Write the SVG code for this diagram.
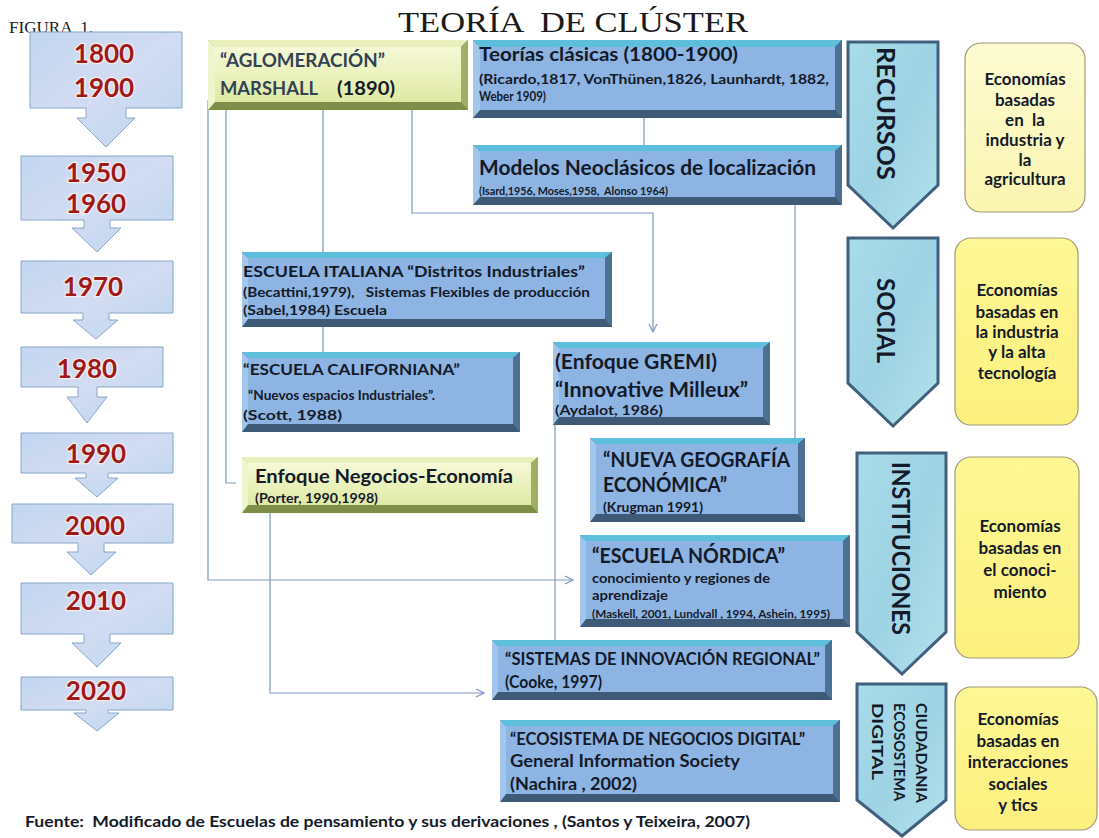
<svg xmlns="http://www.w3.org/2000/svg" width="1099" height="838" viewBox="0 0 1099 838">
<defs>
<linearGradient id="gTime" x1="0" y1="0" x2="1" y2="1"><stop offset="0" stop-color="#c3d6f0"/><stop offset="0.5" stop-color="#d2dcf2"/><stop offset="1" stop-color="#bcd6ee"/></linearGradient>
<linearGradient id="gChev" x1="0" y1="0" x2="1" y2="1"><stop offset="0" stop-color="#a9dcea"/><stop offset="0.5" stop-color="#9ed3e4"/><stop offset="1" stop-color="#b2e0ec"/></linearGradient>
<linearGradient id="gGreen" x1="0" y1="0" x2="0" y2="1"><stop offset="0" stop-color="#f6f9d6"/><stop offset="1" stop-color="#dfe9a4"/></linearGradient>
<linearGradient id="gY1" x1="0" y1="0" x2="0" y2="1"><stop offset="0" stop-color="#fdfbd2"/><stop offset="1" stop-color="#fbf5b0"/></linearGradient>
<linearGradient id="gY2" x1="0" y1="0" x2="0" y2="1"><stop offset="0" stop-color="#fdf895"/><stop offset="1" stop-color="#fcf07e"/></linearGradient>
<marker id="arr" markerWidth="10" markerHeight="10" refX="9" refY="5" orient="auto" markerUnits="userSpaceOnUse"><path d="M1,1 L9,5 L1,9" fill="none" stroke="#7f97c0" stroke-width="1.2"/></marker>
</defs>
<style>
.t{font-family:Lato,"Open Sans","Noto Sans",sans-serif;font-weight:700;fill:#141a28}
.yr{font-family:Lato,"Open Sans",sans-serif;font-weight:700;font-size:26px;fill:#9e1a1a;stroke:#f8eeee;stroke-width:2.5px;paint-order:stroke;text-anchor:middle}
.ser{font-family:"Liberation Serif","Times New Roman",serif;fill:#1a1a1a}
.tl{fill:url(#gTime);stroke:#86a6c8;stroke-width:1}
.chev{fill:url(#gChev);stroke:#40607e;stroke-width:3;stroke-linejoin:miter}
.yel{stroke:#a09a78;stroke-width:1.2}
.bd{fill:#3e5a76}.btp{fill:#5dbfdc}.blf{fill:#a3c6ec}.brt{fill:#4d7192}.bf{fill:#8eb4e3}
.gd{fill:#7e8e48}.gtp{fill:#e9f0bb}.glf{fill:#eef5cc}.grt{fill:#9fb062}.gf{fill:url(#gGreen)}
.c{fill:none;stroke:#7f97c0;stroke-width:1.2}
.mid{text-anchor:middle}
</style>
<rect width="1099" height="838" fill="#ffffff"/>

<text class="ser" x="9" y="33" font-size="16" textLength="84" lengthAdjust="spacingAndGlyphs" xml:space="preserve">FIGURA  1.</text>
<text class="ser" x="398" y="32" font-size="30" textLength="350" lengthAdjust="spacingAndGlyphs" xml:space="preserve">TEORÍA  DE CLÚSTER</text>

<g id="timeline">
<g id="y1800"><path class="tl" d="M30,32 H182 V108 H126 V118 H135 L106,147 L77,118 H86 V108 H30 Z"/><text class="yr" x="104" y="63">1800</text><text class="yr" x="104" y="97">1900</text></g>
<g id="y1950"><path class="tl" d="M21,156 H173 V220 H110 V228 H121 L97,252 L72,228 H84 V220 H21 Z"/><text class="yr" x="96" y="182">1950</text><text class="yr" x="96" y="213">1960</text></g>
<g id="y1970"><path class="tl" d="M21,261 H173 V313 H109 V320 H118 L96,339 L73,320 H83 V313 H21 Z"/><text class="yr" x="93" y="296">1970</text></g>
<g id="y1980"><path class="tl" d="M21,347 H163 V387 H97 V397 H107 L87,423 L67,397 H78 V387 H21 Z"/><text class="yr" x="87" y="378">1980</text></g>
<g id="y1990"><path class="tl" d="M21,433 H173 V473 H108 V478 H118 L97,497 L75,478 H86 V473 H21 Z"/><text class="yr" x="96" y="463">1990</text></g>
<g id="y2000"><path class="tl" d="M12,504 H173 V543 H104 V552 H116 L91,575 L67,552 H78 V543 H12 Z"/><text class="yr" x="95" y="535">2000</text></g>
<g id="y2010"><path class="tl" d="M21,583 H173 V634 H110 V643 H121 L97,667 L72,643 H84 V634 H21 Z"/><text class="yr" x="96" y="610">2010</text></g>
<g id="y2020"><path class="tl" d="M21,677 H173 V710 H108 V713 H119 L97,731 L74,713 H86 V710 H21 Z"/><text class="yr" x="96" y="700">2020</text></g>
</g>

<g id="connectors">
<path class="c" d="M208,100 V580 H573" marker-end="url(#arr)"/>
<path class="c" d="M226,100 V483 H236"/>
<path class="c" d="M323,100 V252"/>
<path class="c" d="M323,327 V352"/>
<path class="c" d="M412,100 V213 H653 V332" marker-end="url(#arr)"/>
<path class="c" d="M644,118 V145"/>
<path class="c" d="M795,205 V438"/>
<path class="c" d="M555,425 V640"/>
<path class="c" d="M270,513 V693 H484" marker-end="url(#arr)"/>
</g>

<g id="marshall">
<rect class="gd" x="208" y="40" width="260" height="70"/>
<polygon class="gtp" points="208,40 468,40 461,47 215,47"/>
<polygon class="glf" points="208,40 215,47 215,102 208,110"/>
<polygon class="grt" points="468,40 468,110 461,102 461,47"/>
<rect class="gf" x="215" y="47" width="246" height="55"/>
<text class="t" x="220" y="67" font-size="19" style="fill:#334255" textLength="165" lengthAdjust="spacingAndGlyphs">“AGLOMERACIÓN”</text>
<text class="t" x="220" y="95" font-size="19" style="fill:#334255" textLength="98" lengthAdjust="spacingAndGlyphs">MARSHALL</text>
<text class="t" x="337" y="95" font-size="19" textLength="58" lengthAdjust="spacingAndGlyphs">(1890)</text>
</g>

<g id="clasicas">
<rect class="bd" x="473" y="40" width="369" height="78"/>
<polygon class="btp" points="473,40 842,40 835,47 480,47"/>
<polygon class="blf" points="473,40 480,47 480,110 473,118"/>
<polygon class="brt" points="842,40 842,118 835,110 835,47"/>
<rect class="bf" x="480" y="47" width="355" height="63"/>
<text class="t" x="479" y="61" font-size="19.5" textLength="259" lengthAdjust="spacingAndGlyphs">Teorías clásicas (1800-1900)</text>
<text class="t" x="479" y="84" font-size="13" textLength="350" lengthAdjust="spacingAndGlyphs">(Ricardo,1817, VonThünen,1826, Launhardt, 1882,</text>
<text class="t" x="479" y="101" font-size="13" textLength="67" lengthAdjust="spacingAndGlyphs">Weber 1909)</text>
</g>

<g id="neoclasicos">
<rect class="bd" x="473" y="145" width="369" height="60"/>
<polygon class="btp" points="473,145 842,145 835,151 480,151"/>
<polygon class="blf" points="473,145 480,151 480,197 473,205"/>
<polygon class="brt" points="842,145 842,205 835,197 835,151"/>
<rect class="bf" x="480" y="151" width="355" height="46"/>
<text class="t" x="479" y="175" font-size="20.5" textLength="337" lengthAdjust="spacingAndGlyphs">Modelos Neoclásicos de localización</text>
<text class="t" x="479" y="195" font-size="12" textLength="189" lengthAdjust="spacingAndGlyphs" xml:space="preserve">(Isard,1956, Moses,1958,  Alonso 1964)</text>
</g>

<g id="italiana">
<rect class="bd" x="242" y="252" width="370" height="75"/>
<polygon class="btp" points="242,252 612,252 605,258 248,258"/>
<polygon class="blf" points="242,252 248,258 248,319 242,327"/>
<polygon class="brt" points="612,252 612,327 605,319 605,258"/>
<rect class="bf" x="248" y="258" width="357" height="61"/>
<text class="t" x="243" y="277" font-size="16" textLength="342" lengthAdjust="spacingAndGlyphs">ESCUELA ITALIANA “Distritos Industriales”</text>
<text class="t" x="243" y="297" font-size="13.5" textLength="347" lengthAdjust="spacingAndGlyphs" xml:space="preserve">(Becattini,1979),   Sistemas Flexibles de producción</text>
<text class="t" x="243" y="315" font-size="13.5" textLength="144" lengthAdjust="spacingAndGlyphs">(Sabel,1984) Escuela</text>
</g>

<g id="californiana">
<rect class="bd" x="242" y="352" width="278" height="80"/>
<polygon class="btp" points="242,352 520,352 513,358 248,358"/>
<polygon class="blf" points="242,352 248,358 248,424 242,432"/>
<polygon class="brt" points="520,352 520,432 513,424 513,358"/>
<rect class="bf" x="248" y="358" width="265" height="66"/>
<text class="t" x="243" y="375" font-size="16" textLength="217" lengthAdjust="spacingAndGlyphs">“ESCUELA CALIFORNIANA”</text>
<text class="t" x="248" y="400" font-size="13.5" textLength="187" lengthAdjust="spacingAndGlyphs">“Nuevos espacios Industriales”.</text>
<text class="t" x="243" y="420" font-size="13.5" textLength="99" lengthAdjust="spacingAndGlyphs">(Scott, 1988)</text>
</g>

<g id="gremi">
<rect class="bd" x="553" y="342" width="217" height="83"/>
<polygon class="btp" points="553,342 770,342 763,348 559,348"/>
<polygon class="blf" points="553,342 559,348 559,417 553,425"/>
<polygon class="brt" points="770,342 770,425 763,417 763,348"/>
<rect class="bf" x="559" y="348" width="204" height="69"/>
<text class="t" x="555" y="369" font-size="21" textLength="162" lengthAdjust="spacingAndGlyphs">(Enfoque GREMI)</text>
<text class="t" x="555" y="397" font-size="21" textLength="193" lengthAdjust="spacingAndGlyphs">“Innovative Milleux”</text>
<text class="t" x="555" y="415" font-size="13" textLength="108" lengthAdjust="spacingAndGlyphs">(Aydalot, 1986)</text>
</g>

<g id="negocios">
<rect class="gd" x="242" y="457" width="296" height="56"/>
<polygon class="gtp" points="242,457 538,457 531,463 248,463"/>
<polygon class="glf" points="242,457 248,463 248,505 242,513"/>
<polygon class="grt" points="538,457 538,513 531,505 531,463"/>
<rect class="gf" x="248" y="463" width="283" height="42"/>
<text class="t" x="255" y="483" font-size="19.5" textLength="258" lengthAdjust="spacingAndGlyphs">Enfoque Negocios-Economía</text>
<text class="t" x="255" y="503" font-size="13" textLength="123" lengthAdjust="spacingAndGlyphs">(Porter, 1990,1998)</text>
</g>

<g id="nueva">
<rect class="bd" x="590" y="438" width="215" height="84"/>
<polygon class="btp" points="590,438 805,438 798,444 596,444"/>
<polygon class="blf" points="590,438 596,444 596,514 590,522"/>
<polygon class="brt" points="805,438 805,522 798,514 798,444"/>
<rect class="bf" x="596" y="444" width="202" height="70"/>
<text class="t" x="603" y="467" font-size="21" textLength="187" lengthAdjust="spacingAndGlyphs">“NUEVA GEOGRAFÍA</text>
<text class="t" x="603" y="492" font-size="21" textLength="124" lengthAdjust="spacingAndGlyphs">ECONÓMICA”</text>
<text class="t" x="603" y="512" font-size="13" textLength="100" lengthAdjust="spacingAndGlyphs">(Krugman 1991)</text>
</g>

<g id="nordica">
<rect class="bd" x="580" y="535" width="270" height="92"/>
<polygon class="btp" points="580,535 850,535 843,541 586,541"/>
<polygon class="blf" points="580,535 586,541 586,619 580,627"/>
<polygon class="brt" points="850,535 850,627 843,619 843,541"/>
<rect class="bf" x="586" y="541" width="257" height="78"/>
<text class="t" x="592" y="563" font-size="21" textLength="193" lengthAdjust="spacingAndGlyphs">“ESCUELA NÓRDICA”</text>
<text class="t" x="592" y="583" font-size="14" textLength="178" lengthAdjust="spacingAndGlyphs">conocimiento y regiones de</text>
<text class="t" x="592" y="600" font-size="14" textLength="76" lengthAdjust="spacingAndGlyphs">aprendizaje</text>
<text class="t" x="592" y="618" font-size="10.5" textLength="238" lengthAdjust="spacingAndGlyphs">(Maskell, 2001, Lundvall , 1994, Ashein, 1995)</text>
</g>

<g id="sistemas">
<rect class="bd" x="492" y="640" width="340" height="60"/>
<polygon class="btp" points="492,640 832,640 825,646 498,646"/>
<polygon class="blf" points="492,640 498,646 498,692 492,700"/>
<polygon class="brt" points="832,640 832,700 825,692 825,646"/>
<rect class="bf" x="498" y="646" width="327" height="46"/>
<text class="t" x="505" y="665" font-size="16.5" textLength="315" lengthAdjust="spacingAndGlyphs">“SISTEMAS DE INNOVACIÓN REGIONAL”</text>
<text class="t" x="505" y="688" font-size="16.5" textLength="97" lengthAdjust="spacingAndGlyphs">(Cooke, 1997)</text>
</g>

<g id="ecosistema">
<rect class="bd" x="500" y="720" width="340" height="82"/>
<polygon class="btp" points="500,720 840,720 833,726 506,726"/>
<polygon class="blf" points="500,720 506,726 506,794 500,802"/>
<polygon class="brt" points="840,720 840,802 833,794 833,726"/>
<rect class="bf" x="506" y="726" width="327" height="68"/>
<text class="t" x="510" y="745" font-size="16.5" textLength="295" lengthAdjust="spacingAndGlyphs">“ECOSISTEMA DE NEGOCIOS DIGITAL”</text>
<text class="t" x="510" y="767" font-size="16.5" textLength="230" lengthAdjust="spacingAndGlyphs">General Information Society</text>
<text class="t" x="510" y="790" font-size="16.5" textLength="127" lengthAdjust="spacingAndGlyphs">(Nachira , 2002)</text>
</g>

<g id="recursos">
<path class="chev" d="M848,42 H938 V185 L893,228 L848,185 Z"/>
<text class="t" transform="translate(877,47) rotate(90)" font-size="24" textLength="133" lengthAdjust="spacingAndGlyphs">RECURSOS</text>
</g>
<g id="social">
<path class="chev" d="M848,238 H938 V383 L893,426 L848,383 Z"/>
<text class="t" transform="translate(877,278) rotate(90)" font-size="24" textLength="85" lengthAdjust="spacingAndGlyphs">SOCIAL</text>
</g>
<g id="instituciones">
<path class="chev" d="M857,453 H946 V632 L902,674 L857,632 Z"/>
<text class="t" transform="translate(892,462) rotate(90)" font-size="25" textLength="173" lengthAdjust="spacingAndGlyphs">INSTITUCIONES</text>
</g>
<g id="ciudadania">
<path class="chev" d="M857,684 H946 V800 L902,836 L857,800 Z"/>
<text class="t" transform="translate(916,703) rotate(90)" font-size="16" textLength="100" lengthAdjust="spacingAndGlyphs">CIUDADANIA</text>
<text class="t" transform="translate(894,703) rotate(90)" font-size="16" textLength="98" lengthAdjust="spacingAndGlyphs">ECOSOSTEMA</text>
<text class="t" transform="translate(872,703) rotate(90)" font-size="16" textLength="77" lengthAdjust="spacingAndGlyphs">DIGITAL</text>
</g>

<g id="eco1">
<rect class="yel" x="965" y="43" width="120" height="169" rx="16" fill="url(#gY1)"/>
<g class="t mid" font-size="17"><text x="1025" y="85">Economías</text><text x="1025" y="106">basadas</text><text x="1025" y="126" xml:space="preserve">en  la</text><text x="1025" y="146">industria y</text><text x="1025" y="166">la</text><text x="1025" y="185">agricultura</text></g>
</g>
<g id="eco2">
<rect class="yel" x="955" y="238" width="123" height="187" rx="16" fill="url(#gY2)"/>
<g class="t mid" font-size="17"><text x="1017" y="296">Economías</text><text x="1017" y="318">basadas en</text><text x="1017" y="338">la industria</text><text x="1017" y="358">y la alta</text><text x="1017" y="379">tecnología</text></g>
</g>
<g id="eco3">
<rect class="yel" x="955" y="457" width="124" height="201" rx="16" fill="url(#gY2)"/>
<g class="t mid" font-size="17"><text x="1020" y="532">Economías</text><text x="1020" y="554">basadas en</text><text x="1020" y="576">el conoci-</text><text x="1020" y="598">miento</text></g>
</g>
<g id="eco4">
<rect class="yel" x="955" y="687" width="142" height="143" rx="16" fill="url(#gY2)"/>
<g class="t mid" font-size="17"><text x="1018" y="725">Economías</text><text x="1018" y="747">basadas en</text><text x="1018" y="768">interacciones</text><text x="1018" y="790">sociales</text><text x="1018" y="811">y tics</text></g>
</g>

<text class="t" x="25" y="827" font-size="16" textLength="725" lengthAdjust="spacingAndGlyphs" xml:space="preserve">Fuente:  Modificado de Escuelas de pensamiento y sus derivaciones , (Santos y Teixeira, 2007)</text>
</svg>
